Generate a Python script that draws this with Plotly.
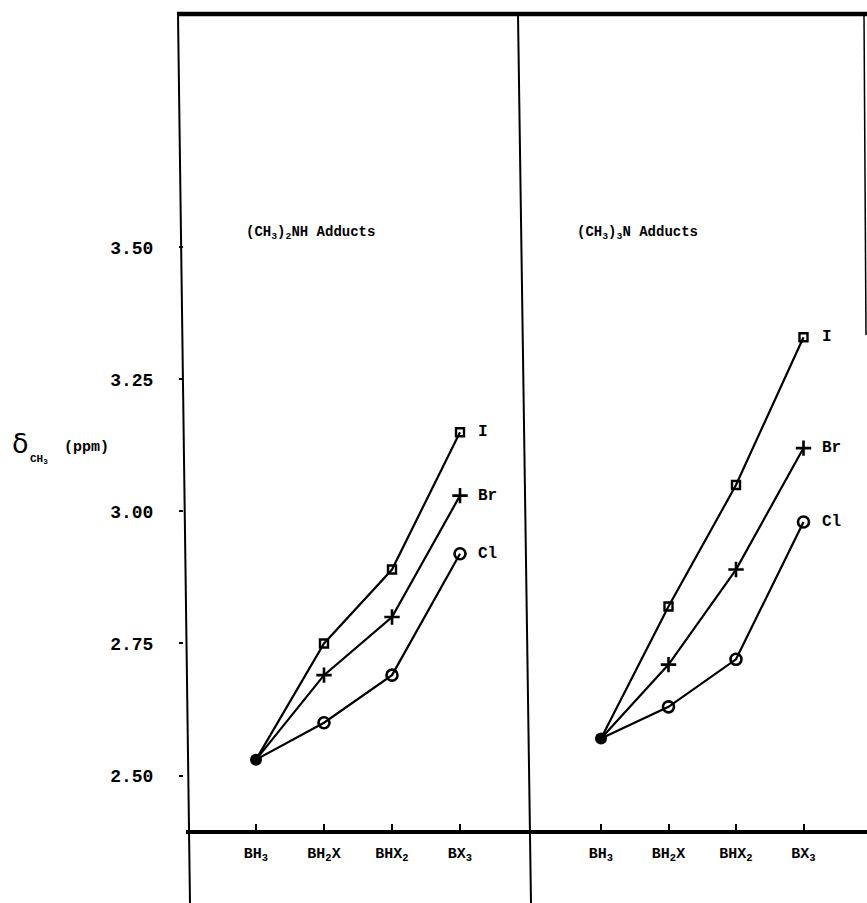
import plotly.graph_objects as go
from plotly.subplots import make_subplots

categories = ["BH<sub>3</sub>", "BH<sub>2</sub>X", "BHX<sub>2</sub>", "BX<sub>3</sub>"]
y_ticks = [2.50, 2.75, 3.00, 3.25, 3.50]
y_tick_labels = ["2.50", "2.75", "3.00", "3.25", "3.50"]

# (CH3)2NH adducts
dma_I = [2.53, 2.75, 2.89, 3.15]
dma_Br = [2.53, 2.69, 2.80, 3.03]
dma_Cl = [2.53, 2.60, 2.69, 2.92]
# (CH3)3N adducts
tma_I = [2.57, 2.82, 3.05, 3.33]
tma_Br = [2.57, 2.71, 2.89, 3.12]
tma_Cl = [2.57, 2.63, 2.72, 2.98]

series_names = ["I", "Br", "Cl"]
panel_titles = ["(CH<sub>3</sub>)<sub>2</sub>NH Adducts", "(CH<sub>3</sub>)<sub>3</sub>N Adducts"]

W, H = 867, 903
L, R, T, B = 184, 866, 14, 832
DIV = 524
YMIN, YMAX = 2.393, 3.942

FONT = "Liberation Mono"

fig = make_subplots(rows=1, cols=2, horizontal_spacing=0, shared_yaxes=True)

markers = {
    "I": dict(symbol="square-open", size=8, line=dict(width=2.4, color="black"), color="black"),
    "Br": dict(symbol="cross-thin", size=11, line=dict(width=2.6, color="black"), color="black"),
    "Cl": dict(symbol="circle-open", size=11, line=dict(width=2.6, color="black"), color="black"),
}

xs = [1, 2, 3, 4]
panels = [(dma_I, dma_Br, dma_Cl), (tma_I, tma_Br, tma_Cl)]
for col, data in enumerate(panels, start=1):
    for name, vals in zip(series_names, data):
        fig.add_trace(go.Scatter(
            x=xs, y=vals, mode="lines", line=dict(color="black", width=2.2),
            showlegend=False, hoverinfo="skip"), row=1, col=col)
        fig.add_trace(go.Scatter(
            x=xs[1:], y=vals[1:], mode="markers", marker=markers[name],
            showlegend=False, hoverinfo="skip"), row=1, col=col)
        fig.add_annotation(x=xs[-1], y=vals[-1], text="<b>%s</b>" % name,
                           xanchor="left", xshift=16, showarrow=False,
                           font=dict(family=FONT, size=16, color="black"),
                           row=1, col=col)
    fig.add_trace(go.Scatter(
        x=[xs[0]], y=[data[0][0]], mode="markers",
        marker=dict(symbol="circle", size=12, color="black"),
        showlegend=False, hoverinfo="skip"), row=1, col=col)

x_ranges = [[-0.0588, 4.941], [-0.1407, 4.926]]
for col in (1, 2):
    fig.update_xaxes(range=x_ranges[col - 1], tickvals=xs,
                     ticktext=["<b>%s</b>" % c for c in categories],
                     ticks="inside", ticklen=8, tickwidth=1.5, tickcolor="black",
                     showgrid=False, zeroline=False, showline=False,
                     tickfont=dict(family=FONT, size=15, color="black"),
                     ticklabelstandoff=10, row=1, col=col)
fig.update_yaxes(range=[YMIN, YMAX], tickvals=y_ticks, showgrid=False, zeroline=False,
                 showline=False, row=1, col=2, showticklabels=False, ticks="")
fig.update_yaxes(range=[YMIN, YMAX], tickvals=y_ticks,
                 ticktext=["<b>%s</b>" % t for t in y_tick_labels],
                 ticks="outside", ticklen=4, tickwidth=1.5, tickcolor="black",
                 showgrid=False, zeroline=False, showline=False,
                 tickfont=dict(family=FONT, size=18, color="black"),
                 ticklabelstandoff=22, row=1, col=1)

div_frac = (DIV - L) / (R - L)
fig.update_layout(
    xaxis=dict(domain=[0, div_frac]),
    xaxis2=dict(domain=[div_frac, 1]),
)

def px_x(p):
    return (p - L) / (R - L)

def px_y(p):
    return (B - p) / (B - T)

# frame (slightly skewed, as in the scanned original)
fig.add_shape(type="line", xref="paper", yref="paper", x0=px_x(177), x1=px_x(867),
              y0=px_y(14), y1=px_y(14), line=dict(color="black", width=4.5))
fig.add_shape(type="line", xref="paper", yref="paper", x0=px_x(186), x1=px_x(867),
              y0=0, y1=0, line=dict(color="black", width=4))
fig.add_shape(type="line", xref="paper", yref="paper", x0=px_x(178), x1=px_x(190),
              y0=px_y(14), y1=px_y(903), line=dict(color="black", width=2))
fig.add_shape(type="line", xref="paper", yref="paper", x0=px_x(518), x1=px_x(531),
              y0=px_y(14), y1=px_y(903), line=dict(color="black", width=2))
fig.add_shape(type="line", xref="paper", yref="paper", x0=px_x(864), x1=px_x(866),
              y0=px_y(14), y1=px_y(335), line=dict(color="black", width=1.5))

# panel titles
for xc, t in zip((310, 637), panel_titles):
    fig.add_annotation(xref="paper", yref="paper", x=px_x(xc), y=px_y(233),
                       xanchor="center", yanchor="middle",
                       text="<b>%s</b>" % t, showarrow=False,
                       font=dict(family=FONT, size=14, color="black"))

# y-axis title
fig.add_annotation(xref="paper", yref="paper", x=px_x(10), y=px_y(443), xanchor="left",
                   text="δ", showarrow=False,
                   font=dict(family="DejaVu Sans", size=27, color="black"))
fig.add_annotation(xref="paper", yref="paper", x=px_x(28), y=px_y(459), xanchor="left",
                   text="<b>CH<sub>3</sub></b>", showarrow=False,
                   font=dict(family=FONT, size=11, color="black"))
fig.add_annotation(xref="paper", yref="paper", x=px_x(62), y=px_y(447), xanchor="left",
                   text="<b>(ppm)</b>", showarrow=False,
                   font=dict(family=FONT, size=15, color="black"))

fig.update_layout(
    width=W, height=H,
    margin=dict(l=L, r=W - R, t=T, b=H - B),
    plot_bgcolor="white", paper_bgcolor="white",
    showlegend=False,
)

fig.write_html("out.html")
